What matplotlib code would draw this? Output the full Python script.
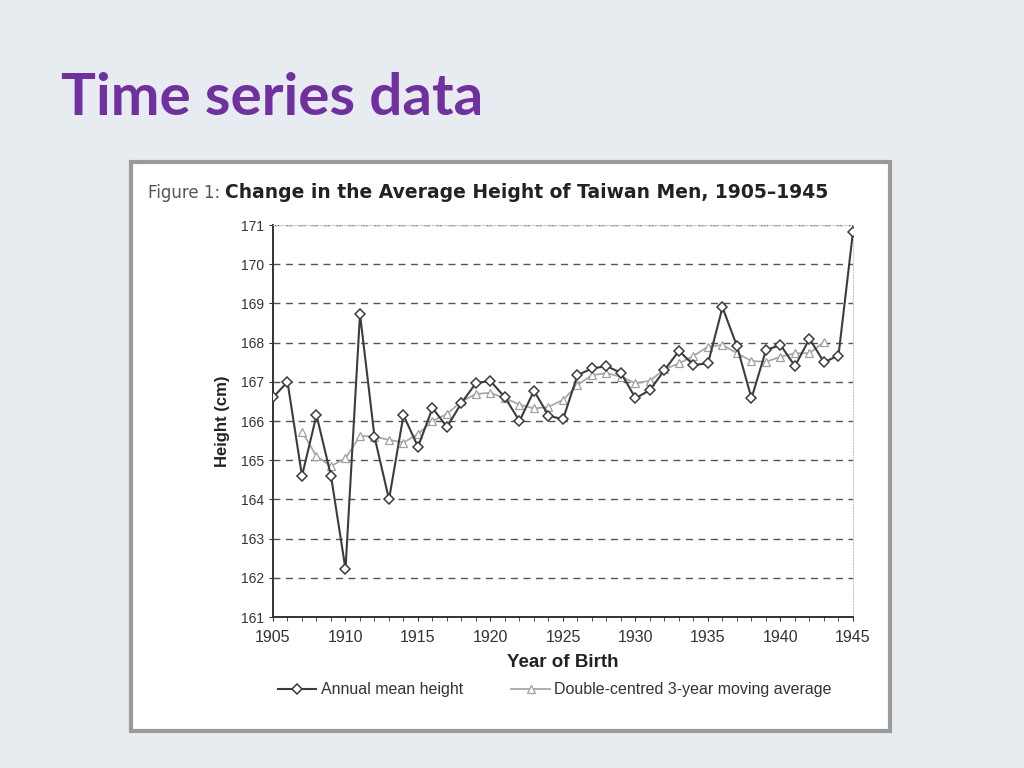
import matplotlib
matplotlib.use("Agg")
import matplotlib.pyplot as plt
from matplotlib.patches import Rectangle
from matplotlib.ticker import MultipleLocator

plt.rcParams['font.family'] = ['Liberation Sans', 'DejaVu Sans']

# annual mean height, 1905-1945
years = list(range(1905, 1946))
annual = [166.6, 167.0, 164.6, 166.15, 164.6, 162.22, 168.73, 165.6, 164.0, 166.15,
          165.34, 166.33, 165.85, 166.46, 166.97, 167.02, 166.6, 166.0, 166.77, 166.14,
          166.04, 167.17, 167.34, 167.4, 167.23, 166.58, 166.79, 167.3, 167.79, 167.43,
          167.47, 168.9, 167.91, 166.58, 167.81, 167.94, 167.4, 168.1, 167.5, 167.67,
          170.83]

# double-centred 3-year moving average, 1907-1943
ma_years = list(range(1907, 1944))
moving_avg = [165.73, 165.1, 164.85, 165.05, 165.62, 165.6, 165.52, 165.45, 165.67, 166.0,
              166.18, 166.5, 166.69, 166.72, 166.58, 166.42, 166.32, 166.36, 166.54, 166.92,
              167.17, 167.22, 167.13, 166.96, 167.03, 167.32, 167.47, 167.66, 167.9, 167.94,
              167.73, 167.53, 167.51, 167.64, 167.73, 167.73, 168.02]

fig = plt.figure(figsize=(10.24, 7.68), dpi=100)
fig.patch.set_facecolor('#e7ecf0')

# slide title
fig.text(0.060, 0.850, 'Time series data', fontsize=42, fontweight='bold',
         color='#7030a0', family=['Lato', 'DejaVu Sans'], va='baseline')

# white picture panel with shadow edge
fig.patches.append(Rectangle((0.128, 0.048), 0.741, 0.741, transform=fig.transFigure,
                             facecolor='white', edgecolor='#9a9a9a', lw=3, zorder=-10))

ax = fig.add_axes([0.2666, 0.1966, 0.5664, 0.5104])
ax.set_zorder(2)
ax.plot(ma_years, moving_avg, color='#a8a8a8', lw=1.3, marker='^', ms=5.5,
        mfc='white', mec='#a0a0a0', mew=0.9, label='Double-centred 3-year moving average',
        zorder=3)
ax.plot(years, annual, color='#3c3c3c', lw=1.5, marker='D', ms=5,
        mfc='white', mec='#3c3c3c', mew=1.1, label='Annual mean height', zorder=4)

ax.set_xlim(1905, 1945)
ax.set_ylim(161, 171)
ax.xaxis.set_major_locator(MultipleLocator(5))
ax.xaxis.set_minor_locator(MultipleLocator(1))
ax.yaxis.set_major_locator(MultipleLocator(1))
ax.tick_params(axis='both', colors='#333333', direction='out', length=3)
ax.tick_params(axis='y', labelsize=10)
ax.tick_params(axis='x', labelsize=11.5, pad=6)
ax.tick_params(axis='x', which='minor', length=3, color='#333333')
ax.grid(axis='y', ls=(0, (5, 4)), color='#555555', lw=1.0)
for s in ['top', 'right']:
    ax.spines[s].set_color('#c8c8c8')
    ax.spines[s].set_linestyle(':')
for s in ['left', 'bottom']:
    ax.spines[s].set_color('#333333')
    ax.spines[s].set_linewidth(1.4)

ax.set_xlabel('Year of Birth', fontsize=13.5, fontweight='bold', color='#222222', labelpad=7)
ax.set_ylabel('Height (cm)', fontsize=12, fontweight='bold', color='#222222', labelpad=8)

t1 = fig.text(0.1445, 0.742, 'Figure 1: ', fontsize=12, color='#555555',
              family=['DejaVu Sans'], va='baseline')
fig.add_artist(plt.Annotation('Change in the Average Height of Taiwan Men, 1905\u20131945',
                              xy=(1, 0), xycoords=t1, fontsize=13.5, fontweight='bold',
                              color='#222222', va='bottom', family=['DejaVu Sans']))

h, l = ax.get_legend_handles_labels()
fig.legend(h[::-1], l[::-1], loc='center', bbox_to_anchor=(0.542, 0.1016), ncol=2,
           frameon=False, fontsize=11.5, handlelength=2.4, columnspacing=3.0,
           handletextpad=0.3, labelcolor='#333333')

fig.savefig('out.png', dpi=100, facecolor=fig.get_facecolor())
